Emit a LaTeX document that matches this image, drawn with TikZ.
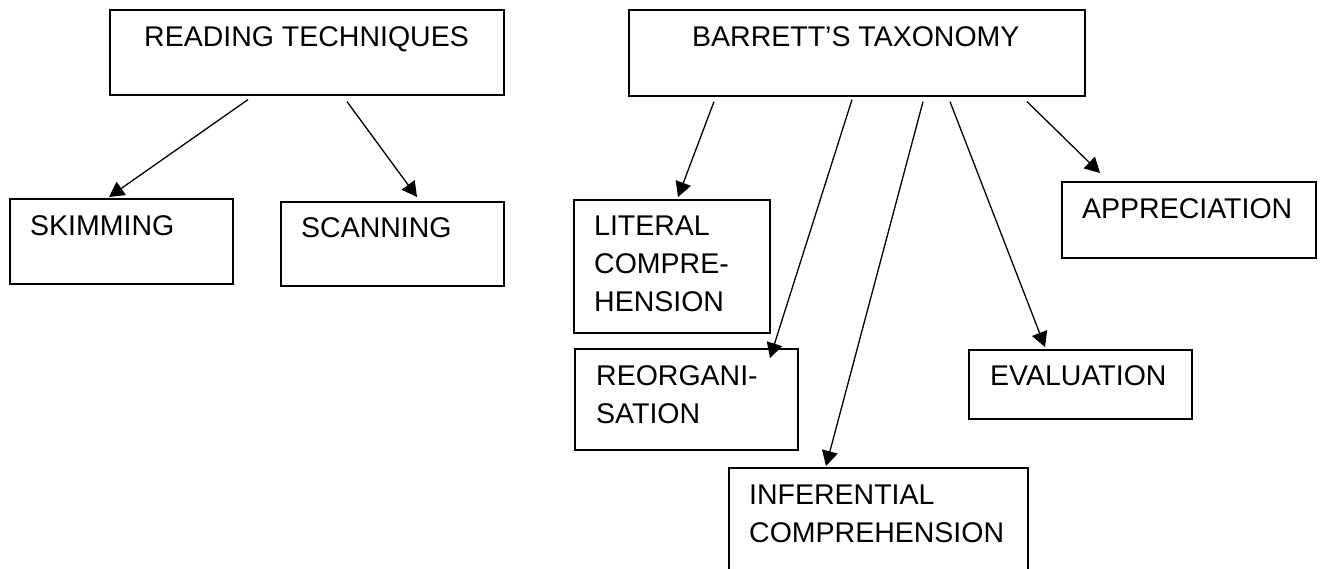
\documentclass[tikz,border=0pt]{standalone}
\usepackage{fontspec}
\setmainfont{Liberation Sans}
\usetikzlibrary{positioning}
\usetikzlibrary{arrows.meta}

\begin{document}
\begin{tikzpicture}[x=1pt,y=-1pt,
  box/.style={draw, line width=1.6pt, rectangle, inner sep=0pt, anchor=north west},
  lbl/.style={anchor=base west, align=left, inner sep=0pt, font=\fontsize{28.5}{38}\selectfont},
  link/.style={line width=1.3pt, -{Triangle[length=15pt,width=16pt]}}]
  \useasboundingbox (0,0) rectangle (1322,568);

  % Reading techniques and its two children
  \node[box, minimum width=394pt, minimum height=85pt] (read) at (109,9) {};
  \node[box, minimum width=223pt, minimum height=85pt] (skim) at (9,198) {};
  \node[box, minimum width=223pt, minimum height=84pt] (scan) at (280,201) {};
  \node[lbl] (readtxt) at (144,46) {READING TECHNIQUES};
  \node[lbl] (skimtxt) at (30,235) {SKIMMING};
  \node[lbl] (scantxt) at (301,237) {SCANNING};

  % Barrett's taxonomy and its five levels
  \node[box, minimum width=456pt, minimum height=86pt] (barr) at (628,9) {};
  \node[box, minimum width=196pt, minimum height=133pt] (lit) at (573,199) {};
  \node[box, minimum width=223pt, minimum height=101pt] (reorg) at (574,348) {};
  \node[box, minimum width=299pt, minimum height=120pt] (infer) at (728,467) {}; % runs off the page
  \node[box, minimum width=223pt, minimum height=69pt] (eval) at (968,349) {};
  \node[box, minimum width=254pt, minimum height=76pt] (appr) at (1061,181) {};
  \node[lbl] (barrtxt) at (692,46) {BARRETT’S TAXONOMY};
  % multi-line labels sit on their last baseline
  \node[lbl] (littxt) at (594,311) {LITERAL\\COMPRE-\\HENSION};
  \node[lbl] (reorgtxt) at (596,423) {REORGANI-\\SATION};
  \node[lbl] (infertxt) at (749,542) {INFERENTIAL\\COMPREHENSION};
  \node[lbl] (evaltxt) at (990,385) {EVALUATION};
  \node[lbl] (apprtxt) at (1082,218) {APPRECIATION};

  % Arrows
  \draw[link] ([xshift=139pt,yshift=-4pt]read.south west) -- ([xshift=100pt,yshift=1pt]skim.north west);
  \draw[link] ([xshift=238pt,yshift=-6pt]read.south west) -- ([xshift=137pt,yshift=4pt]scan.north west);
  \draw[link] ([xshift=86pt,yshift=-5pt]barr.south west) -- ([xshift=105pt,yshift=2pt]lit.north west);
  \draw[link] ([xshift=224pt,yshift=-3pt]barr.south west) -- ([xshift=196pt,yshift=-10pt]reorg.north west);
  \draw[link] ([xshift=295pt,yshift=-5pt]barr.south west) -- ([xshift=98pt,yshift=1pt]infer.north west);
  \draw[link] ([xshift=322pt,yshift=-5pt]barr.south west) -- ([xshift=77pt,yshift=2pt]eval.north west);
  \draw[link] ([xshift=399pt,yshift=-5pt]barr.south west) -- ([xshift=39pt,yshift=8pt]appr.north west);

\end{tikzpicture}
\end{document}
